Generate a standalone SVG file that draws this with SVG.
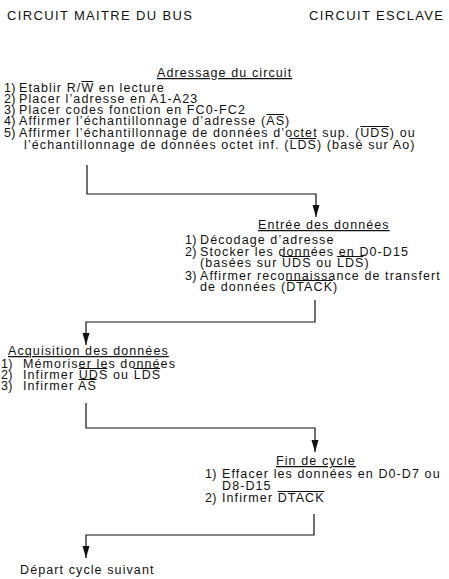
<svg xmlns="http://www.w3.org/2000/svg" width="449" height="579" viewBox="0 0 449 579">
<style>
text{font-family:"Liberation Sans",Arial,sans-serif;fill:#111}
.h{font-size:13px;letter-spacing:1.35px}
.t{font-size:12.5px;letter-spacing:1.1px}
.n{font-size:12.5px;letter-spacing:0.3px}
.u{text-decoration:underline}
.ol{stroke:#111;stroke-width:1}
.c{fill:none;stroke:#111;stroke-width:1.2}
</style>
<defs>
<marker id="ah" markerUnits="userSpaceOnUse" markerWidth="13" markerHeight="8" refX="12" refY="3.5" orient="auto">
<path d="M0,0 L12,3.5 L0,7 z" fill="#111"/>
</marker>
</defs>
<g id="headers">
<text class="h" x="7" y="20">CIRCUIT MAITRE DU BUS</text>
<text class="h" x="309" y="20">CIRCUIT ESCLAVE</text>
</g>
<g id="adressage">
<text class="t u" x="157" y="77">Adressage du circuit</text>
<text class="n" x="4" y="92">1)</text><text class="t" x="19" y="92">Etablir R/W en lecture</text>
<text class="n" x="4" y="103">2)</text><text class="t" x="19" y="103">Placer l’adresse en A1-A23</text>
<text class="n" x="4" y="114">3)</text><text class="t" x="19" y="114">Placer codes fonction en FC0-FC2</text>
<text class="n" x="4" y="125">4)</text><text class="t" x="19" y="125">Affirmer l’échantillonnage d’adresse (AS)</text>
<text class="n" x="4" y="137">5)</text><text class="t" x="19" y="137">Affirmer l’échantillonnage de données d’octet sup. (UDS) ou</text>
<text class="t" x="24" y="149">l’échantillonnage de données octet inf. (LDS) (basé sur Ao)</text>
<line class="ol" x1="81.4" y1="81.5" x2="93.2" y2="81.5"/>
<line class="ol" x1="266.4" y1="114.5" x2="284.2" y2="114.5"/>
<line class="ol" x1="360.4" y1="126.5" x2="389" y2="126.5"/>
<line class="ol" x1="289.4" y1="138.5" x2="316" y2="138.5"/>
</g>
<g id="entree">
<text class="t u" x="258" y="229">Entrée des données</text>
<text class="n" x="185" y="244">1)</text><text class="t" x="200" y="244">Décodage d’adresse</text>
<text class="n" x="185" y="256">2)</text><text class="t" x="200" y="256">Stocker les données en D0-D15</text>
<text class="t" x="200" y="267">(basées sur UDS ou LDS)</text>
<text class="n" x="185" y="280">3)</text><text class="t" x="200" y="280">Affirmer reconnaissance de transfert</text>
<text class="t" x="200" y="291">de données (DTACK)</text>
<line class="ol" x1="282" y1="256.5" x2="310.6" y2="256.5"/>
<line class="ol" x1="336.9" y1="256.5" x2="363.4" y2="256.5"/>
<line class="ol" x1="286.2" y1="280.5" x2="333" y2="280.5"/>
</g>
<g id="acquisition">
<text class="t u" x="8" y="355">Acquisition des données</text>
<text class="n" x="1" y="368">1)</text><text class="t" x="23" y="368">Mémoriser les données</text>
<text class="n" x="1" y="379">2)</text><text class="t" x="23" y="379">Infirmer UDS ou LDS</text>
<text class="n" x="1" y="390">3)</text><text class="t" x="23" y="390">Infirmer AS</text>
<line class="ol" x1="78.7" y1="368.5" x2="107.3" y2="368.5"/>
<line class="ol" x1="133.6" y1="368.5" x2="160.1" y2="368.5"/>
<line class="ol" x1="78.7" y1="379.5" x2="96.5" y2="379.5"/>
</g>
<g id="fin">
<text class="t u" x="276" y="465">Fin de cycle</text>
<text class="n" x="205" y="478">1)</text><text class="t" x="222" y="478">Effacer les données en D0-D7 ou</text>
<text class="t" x="222" y="490">D8-D15</text>
<text class="n" x="205" y="502">2)</text><text class="t" x="222" y="502">Infirmer DTACK</text>
<line class="ol" x1="277.7" y1="491.5" x2="324.5" y2="491.5"/>
</g>
<g id="depart">
<text class="t" x="20" y="574">Départ cycle suivant</text>
</g>
<g id="connectors">
<path class="c" d="M87,165 V194 H316 V217" marker-end="url(#ah)"/>
<path class="c" d="M315,300 V322 H86 V345" marker-end="url(#ah)"/>
<path class="c" d="M86,403 V428 H315 V452" marker-end="url(#ah)"/>
<path class="c" d="M314,514 V535 H86 V558" marker-end="url(#ah)"/>
</g>
</svg>
